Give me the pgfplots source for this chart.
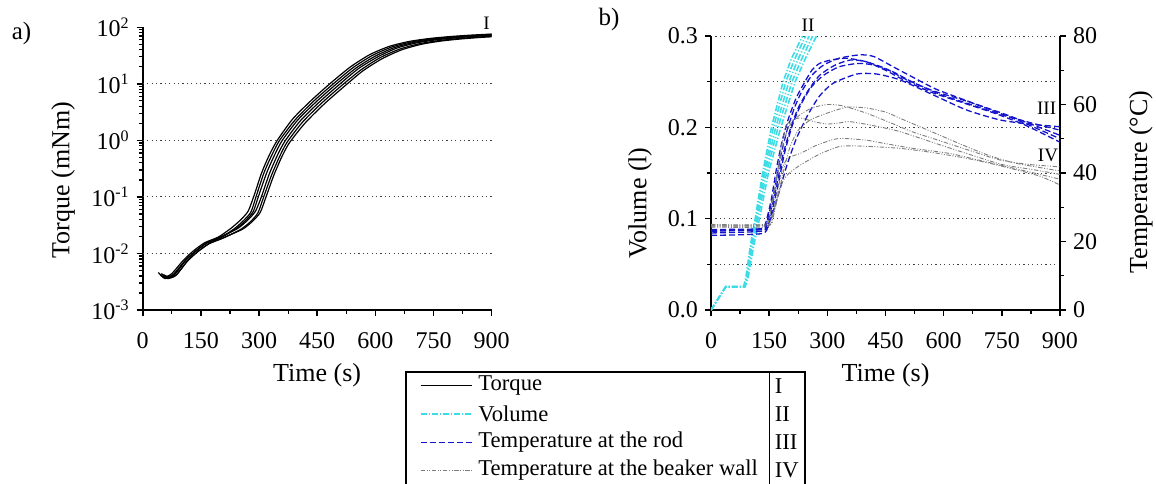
\documentclass[border=0pt]{standalone}
\usepackage{fontspec}
\setmainfont{Liberation Serif}
\usepackage{pgfplots}
\pgfplotsset{compat=1.18}

\definecolor{volcyan}{RGB}{60,220,230}
\definecolor{rodblue}{RGB}{20,20,205}
\definecolor{wallgray}{RGB}{125,125,125}

\tikzset{
  torque/.style={black,line width=0.6pt},
  vol/.style={volcyan,line width=0.8pt,dash pattern=on 3pt off 1pt on 0.6pt off 1pt},
  rod/.style={rodblue,line width=0.65pt,dash pattern=on 3pt off 1.5pt},
  wall/.style={wallgray,line width=0.45pt,dash pattern=on 2.2pt off 0.8pt on 0.5pt off 0.8pt on 0.5pt off 0.8pt},
}

\pgfplotsset{
  every axis/.append style={
    scale only axis,tick align=outside,
    major tick length=3pt,minor tick length=1.8pt,
    every major tick/.append style={black,line width=0.8pt},
    every minor tick/.append style={black,line width=0.6pt},
    axis line style={line width=1pt},
    tick label style={font=\fontsize{12}{14}\selectfont},
    xticklabel style={yshift=-4.5pt},
    label style={font=\fontsize{13}{15}\selectfont},
    grid style={black!75,line width=0.5pt,dash pattern=on 0.6pt off 1.6pt},
    /pgf/number format/assume math mode=true,
    xmin=0,xmax=900,xtick={0,150,...,900},minor x tick num=1,
    xlabel={Time (s)},
    xlabel style={at={(axis description cs:0.5,0)},anchor=center,yshift=-32.5pt},
  }
}

\begin{document}
\begin{tikzpicture}

% ---------- a) torque ----------
\begin{axis}[at={(71.35pt,-155pt)},anchor=south west,width=174.5pt,height=141.35pt,
  axis x line*=bottom,axis y line*=left,
  ymode=log,ymin=1e-3,ymax=1e2,
  ytick={1e-3,1e-2,1e-1,1,1e1,1e2},
  minor ytick={2e-3,3e-3,4e-3,5e-3,6e-3,7e-3,8e-3,9e-3,
               2e-2,3e-2,4e-2,5e-2,6e-2,7e-2,8e-2,9e-2,
               0.2,0.3,0.4,0.5,0.6,0.7,0.8,0.9,
               2,3,4,5,6,7,8,9,20,30,40,50,60,70,80,90},
  yticklabels={10\textsuperscript{-3},10\textsuperscript{-2},10\textsuperscript{-1},10\textsuperscript{0},10\textsuperscript{1},10\textsuperscript{2}},
  extra y ticks={1e-2,1e-1,1,1e1},extra y tick labels={},
  extra y tick style={grid=major,major tick length=0pt},
  ylabel={Torque (mNm)},
  ylabel style={at={(axis description cs:-0.228,0.46)},anchor=center},
]
\addplot[torque,smooth,tension=0.4] coordinates {(40,4.6e-3)(55,3.8e-3)(75,4.4e-3)(105,7.6e-3)(130,1.1e-2)(160,1.55e-2)(195,1.95e-2)(228,2.8e-2)(252,3.9e-2)(272,5.6e-2)(288,0.11)(307,0.27)(327,0.56)(347,1.0)(387,2.4)(436,5.2)(486,10.5)(536,20)(586,33)(636,46)(686,56)(736,63)(786,68)(836,72)(900,76)};
\addplot[torque,smooth,tension=0.4] coordinates {(45,4.2e-3)(58,3.6e-3)(78,4.2e-3)(108,7.3e-3)(133,1.05e-2)(163,1.5e-2)(198,1.85e-2)(235,2.7e-2)(258,3.7e-2)(279,5.4e-2)(294,0.11)(313,0.27)(333,0.55)(353,1.0)(393,2.3)(443,5.1)(493,10.2)(543,19.5)(593,32)(643,45)(693,55)(743,62)(793,67)(843,71)(900,75)};
\addplot[torque,smooth,tension=0.4] coordinates {(48,4.4e-3)(62,3.7e-3)(82,4.3e-3)(110,7.5e-3)(135,1.08e-2)(165,1.52e-2)(200,1.9e-2)(240,2.7e-2)(265,3.8e-2)(285,5.5e-2)(300,0.11)(320,0.27)(340,0.55)(360,1.0)(400,2.3)(450,5.0)(500,10)(550,19)(600,31)(650,44)(700,54)(750,61)(800,66)(850,70)(900,73)};
\addplot[torque,smooth,tension=0.4] coordinates {(50,4.3e-3)(63,3.9e-3)(84,4.4e-3)(112,7.7e-3)(137,1.1e-2)(167,1.58e-2)(203,2.0e-2)(246,2.8e-2)(271,3.9e-2)(291,5.6e-2)(306,0.10)(326,0.25)(346,0.52)(366,0.95)(406,2.2)(456,4.8)(506,9.6)(556,18.5)(606,30)(656,43)(706,53)(756,60)(806,65)(856,69)(900,72)};
\addplot[torque,smooth,tension=0.4] coordinates {(52,4.0e-3)(65,3.6e-3)(86,4.1e-3)(114,7.2e-3)(139,1.04e-2)(170,1.48e-2)(206,1.85e-2)(252,2.65e-2)(277,3.6e-2)(297,5.2e-2)(312,0.10)(332,0.24)(352,0.50)(372,0.92)(412,2.1)(462,4.6)(512,9.2)(562,17.5)(612,29)(662,41)(712,51)(762,58)(812,63)(862,67)(900,70)};
\addplot[torque,smooth,tension=0.4] coordinates {(55,4.2e-3)(68,3.8e-3)(88,4.3e-3)(116,7.4e-3)(141,1.06e-2)(172,1.5e-2)(208,1.9e-2)(258,2.7e-2)(283,3.7e-2)(303,5.3e-2)(318,0.10)(338,0.24)(358,0.50)(378,0.90)(418,2.0)(468,4.4)(518,8.8)(568,17)(618,28)(668,40)(718,50)(768,57)(818,62)(868,66)(900,68)};
\end{axis}

% ---------- b) volume (left scale) ----------
\begin{axis}[at={(355.5pt,-155pt)},anchor=south west,width=174.5pt,height=137pt,
  axis x line*=bottom,axis y line*=left,
  ymin=0,ymax=0.3,ytick={0,0.1,0.2,0.3},minor ytick={0.05,0.15,0.25},
  ymajorgrids,yminorgrids,
  yticklabel style={/pgf/number format/.cd,fixed,fixed zerofill,precision=1},
  ylabel={Volume (l)},
  ylabel style={at={(axis description cs:-0.203,0.39)},anchor=center},
]
\addplot[vol] coordinates {(0,0)(38,0.0255)(84,0.0255)(90,0.036)(102,0.072)(114,0.1)(133,0.15)(156,0.2)(186,0.25)(207,0.275)(236,0.3)};
\addplot[vol] coordinates {(0,0)(38,0.0255)(85,0.0255)(91,0.035)(104,0.072)(116,0.1)(136,0.15)(161,0.2)(193,0.25)(216,0.275)(244,0.3)};
\addplot[vol] coordinates {(0,0)(38,0.0255)(86,0.0255)(92,0.035)(105,0.07)(118,0.1)(139,0.15)(167,0.2)(201,0.25)(225,0.275)(253,0.3)};
\addplot[vol] coordinates {(0,0)(38,0.0255)(87,0.0255)(94,0.036)(108,0.072)(121,0.1)(143,0.15)(173,0.2)(209,0.25)(234,0.275)(262,0.3)};
\addplot[vol] coordinates {(0,0)(38,0.0255)(88,0.0255)(96,0.036)(111,0.072)(125,0.1)(148,0.15)(180,0.2)(217,0.25)(243,0.275)(272,0.3)};
\end{axis}

% ---------- b) temperatures (right scale) ----------
\begin{axis}[at={(355.5pt,-155pt)},anchor=south west,width=174.5pt,height=137pt,
  axis x line=none,axis y line*=right,
  ymin=0,ymax=80,ytick={0,20,...,80},minor y tick num=1,
  ylabel={Temperature (°C)},
  ylabel style={at={(axis description cs:1.232,0.467)},anchor=center},
]
% temperature at the rod
\addplot[rod,smooth,tension=0.4] coordinates {(0,23.5)(100,23.6)(130,23.8)(140,25)(155,32)(170,42)(185,50)(200,56)(220,62)(240,66.2)(260,70)(280,72)(310,73)(350,73.5)(400,72.5)(450,70.5)(500,67.5)(573,64)(659,61)(750,57.5)(820,54.5)(900,51)};
\addplot[rod,smooth,tension=0.4] coordinates {(0,23.2)(130,23.6)(142,25)(160,33)(178,44)(195,52)(215,59)(235,64)(260,68.5)(290,71.5)(330,73.5)(384,74.5)(420,74)(470,71)(520,68)(580,64.5)(650,61.5)(720,58.5)(800,55)(900,50)};
\addplot[rod,smooth,tension=0.4] coordinates {(0,22.5)(130,23)(145,25)(165,34)(185,45)(205,53)(225,59)(250,64)(280,68.5)(320,71.5)(360,73)(400,72.5)(450,70)(500,67)(570,63.5)(650,60.5)(730,57.5)(810,54)(900,49)};
\addplot[rod,smooth,tension=0.4] coordinates {(0,21.8)(130,22.3)(148,25)(170,35)(190,46)(210,54)(232,60)(258,65)(290,68.5)(330,71)(380,72)(420,71.5)(470,69.5)(520,66.5)(590,63)(670,60)(750,57)(830,54.5)(900,52.5)};
\addplot[rod,smooth,tension=0.4] coordinates {(0,23)(135,23.5)(150,25.5)(172,33)(195,42)(220,50)(250,57)(280,62.5)(315,66.2)(376,68.9)(427,68.9)(487,67.2)(573,62.8)(659,58.4)(745,55.5)(820,54.3)(900,53.5)};
% temperature at the beaker wall
\addplot[wall,smooth,tension=0.4] coordinates {(0,24.8)(135,24.9)(150,27)(165,35)(180,45)(195,52)(210,55)(230,57)(260,59)(300,60)(340,59.6)(400,57.5)(460,54.8)(520,52)(580,49.8)(650,47.2)(745,43.8)(820,42.5)(900,41.8)};
\addplot[wall,smooth,tension=0.4] coordinates {(0,24.5)(140,24.6)(155,26.5)(172,33)(190,42)(205,48)(225,52.5)(256,55.5)(300,57.5)(350,59.2)(400,59)(450,57.8)(487,56)(560,52.5)(659,47.7)(720,45)(788,42.8)(900,40.6)};
\addplot[wall,smooth,tension=0.4] coordinates {(0,25)(138,25)(152,28)(168,38)(182,48)(195,54)(215,55.8)(235,56)(265,55)(298,54.3)(330,54.6)(358,55)(420,53.8)(487,52.1)(570,49)(659,45.7)(750,42.5)(830,41)(900,39.6)};
\addplot[wall,smooth,tension=0.4] coordinates {(0,24.2)(142,24.3)(158,27)(172,35)(186,42)(200,44.5)(230,45.7)(270,48)(316,49.8)(340,50.1)(400,49.6)(444,48.7)(520,47.2)(616,45.7)(700,43.5)(788,41.2)(900,38.2)};
\addplot[wall,smooth,tension=0.4] coordinates {(0,24.6)(145,24.7)(160,27)(172,33)(185,37.5)(200,39.8)(230,42.3)(280,45.5)(334,47.8)(400,47.8)(487,47.2)(570,46)(659,44.3)(720,42.8)(788,40.9)(850,39)(900,36.5)};
\end{axis}

% panel letters and curve labels
\node[font=\fontsize{12.5}{14}\selectfont] at (10.8pt,-16.7pt) {a)};
\node[font=\fontsize{12.5}{14}\selectfont] at (304.5pt,-9.7pt) {b)};
\node[font=\fontsize{9.5}{11}\selectfont] at (243.3pt,-11.7pt) {I};
\node[font=\fontsize{9.5}{11}\selectfont] at (404pt,-12.5pt) {II};
\node[font=\fontsize{9.5}{11}\selectfont] at (523.3pt,-54.2pt) {III};
\node[font=\fontsize{9.5}{11}\selectfont] at (524pt,-77.5pt) {IV};

% legend table
\draw[line width=0.6pt] (203pt,-186pt) rectangle (402.5pt,-246pt);
\draw[line width=0.6pt] (384.6pt,-186pt) -- (384.6pt,-246pt);
\begin{scope}[every node/.style={anchor=west,inner sep=0pt,font=\fontsize{11.3}{13}\selectfont}]
\draw[torque] (210.3pt,-192.9pt) -- (235.8pt,-192.9pt);
\node at (239pt,-192.9pt) {Torque};
\node at (387.2pt,-192.9pt) {I};
\draw[vol] (210.3pt,-207pt) -- (235.8pt,-207pt);
\node at (239pt,-207pt) {Volume};
\node at (387.2pt,-207pt) {II};
\draw[rod] (210.3pt,-221.2pt) -- (235.8pt,-221.2pt);
\node at (239pt,-221.2pt) {Temperature at the rod};
\node at (387.2pt,-221.2pt) {III};
\draw[wall] (210.3pt,-235pt) -- (235.8pt,-235pt);
\node at (239pt,-235pt) {Temperature at the beaker wall};
\node at (387.2pt,-235pt) {IV};
\end{scope}

\pgfresetboundingbox
\path[use as bounding box] (0pt,0pt) rectangle (578pt,-241.5pt);
\end{tikzpicture}
\end{document}
